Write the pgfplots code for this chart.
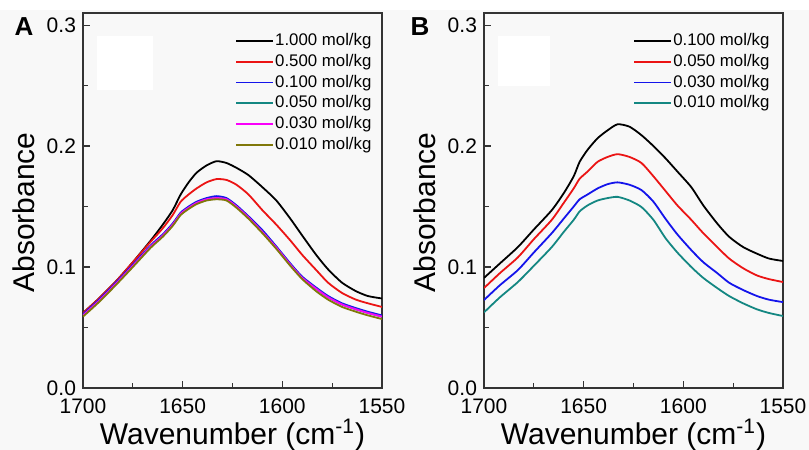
\documentclass[border=0pt]{standalone}
\usepackage{fontspec}
\setmainfont{Liberation Sans}
\usepackage{pgfplots}
\usepackage{pgfplotstable}
\pgfplotsset{compat=1.18}
\definecolor{bgray}{RGB}{248,248,248}
\definecolor{ftred}{RGB}{235,20,20}
\definecolor{ftblue}{RGB}{20,20,235}
\definecolor{ftteal}{RGB}{20,135,130}
\definecolor{ftmag}{RGB}{250,0,250}
\definecolor{ftolive}{RGB}{128,120,10}

% panel A: wavenumber, then 1.000 / 0.500 / 0.100 / 0.050 / 0.030 / 0.010 mol/kg
\pgfplotstableread{
w    a1000  a500   a100   a050   a030   a010
1700 0.062  0.062  0.061  0.060  0.060  0.059
1692 0.074  0.074  0.073  0.072  0.072  0.071
1683 0.089  0.089  0.088  0.087  0.087  0.086
1675 0.104  0.104  0.102  0.101  0.101  0.100
1666 0.122  0.121  0.118  0.117  0.117  0.116
1660 0.135  0.132  0.127  0.126  0.126  0.125
1655 0.147  0.143  0.136  0.135  0.135  0.134
1651 0.160  0.154  0.145  0.144  0.144  0.143
1647 0.170  0.160  0.150  0.149  0.149  0.148
1643 0.178  0.165  0.154  0.153  0.153  0.152
1638 0.184  0.170  0.157  0.156  0.156  0.155
1633 0.1875 0.1727 0.1586 0.157  0.157  0.156
1628 0.186  0.172  0.157  0.156  0.156  0.155
1623 0.182  0.168  0.151  0.150  0.150  0.149
1617 0.176  0.160  0.142  0.141  0.141  0.140
1610 0.166  0.147  0.1305 0.129  0.129  0.128
1603 0.155  0.135  0.117  0.116  0.116  0.115
1596 0.140  0.122  0.103  0.102  0.102  0.101
1590 0.126  0.110  0.092  0.091  0.091  0.090
1583 0.110  0.0975 0.083  0.082  0.082  0.080
1577 0.098  0.087  0.076  0.075  0.075  0.073
1570 0.087  0.0785 0.070  0.069  0.069  0.067
1563 0.080  0.073  0.066  0.065  0.065  0.063
1557 0.076  0.070  0.063  0.062  0.062  0.060
1550 0.074  0.067  0.060  0.059  0.059  0.057
}\tableA

% panel B: wavenumber, then 0.100 / 0.050 / 0.030 / 0.010 mol/kg
\pgfplotstableread{
w    b100   b050   b030   b010
1700 0.091  0.0826 0.0727 0.0625
1692 0.103  0.095  0.085  0.075
1683 0.1165 0.108  0.0975 0.0876
1675 0.131  0.123  0.112  0.101
1666 0.147  0.139  0.128  0.1165
1660 0.161  0.153  0.140  0.129
1655 0.175  0.165  0.150  0.139
1652 0.187  0.173  0.156  0.146
1648 0.197  0.179  0.160  0.151
1643 0.2065 0.187  0.165  0.155
1638 0.213  0.191  0.1685 0.157
1633 0.218  0.1933 0.170  0.158
1627 0.216  0.191  0.168  0.155
1621 0.209  0.186  0.1636 0.1496
1615 0.200  0.175  0.154  0.139
1609 0.190  0.163  0.140  0.124
1603 0.179  0.151  0.127  0.112
1596 0.166  0.139  0.114  0.100
1590 0.151  0.128  0.104  0.091
1583 0.136  0.1165 0.095  0.0826
1577 0.125  0.107  0.087  0.076
1570 0.1165 0.099  0.081  0.070
1563 0.111  0.093  0.076  0.065
1557 0.107  0.090  0.073  0.062
1550 0.105  0.0876 0.071  0.0595
}\tableB

\pgfplotsset{
  ftpanel/.style={
    scale only axis, width=149.5pt, height=187.5pt,
    anchor=south west,
    x dir=reverse, xmin=1550, xmax=1700,
    ymin=0, ymax=0.31,
    xtick={1550,1600,1650,1700}, minor xtick={1575,1625,1675},
    ytick={0,0.1,0.2,0.3}, minor ytick={0.05,0.15,0.25},
    tick align=inside, xtick pos=bottom, ytick pos=left,
    major tick length=3.5pt, minor tick length=2.5pt,
    every tick/.style={black!80, line width=0.6pt},
    axis line style={black!80, line width=0.7pt},
    /pgf/number format/assume math mode=true,
    x tick label style={font=\fontsize{10.5}{12}\selectfont, yshift=-1.8pt,
      /pgf/number format/set thousands separator={}},
    y tick label style={font=\fontsize{10.5}{12}\selectfont,
      /pgf/number format/fixed, /pgf/number format/fixed zerofill,
      /pgf/number format/precision=1},
    xlabel={Wavenumber (cm\textsuperscript{-1})},
    ylabel={Absorbance},
    label style={font=\fontsize{15}{17}\selectfont},
    xlabel style={at={(axis description cs:0.5,-0.125)}, anchor=center},
    ylabel style={at={(axis description cs:-0.197,0.468)}, anchor=center},
    legend style={draw=none, fill=none, font=\fontsize{8.4}{9}\selectfont,
      row sep=1.6pt, anchor=north east, inner sep=0pt,
      nodes={inner sep=0.6pt},
      /tikz/every even column/.append style={column sep=1.5pt}},
    legend image code/.code={\draw[#1, line width=0.9pt] (0pt,0pt) -- (18.5pt,0pt);},
    every axis plot/.append style={line width=0.9pt, smooth, tension=0.4, no markers},
  }
}

\begin{document}
\begin{tikzpicture}
\useasboundingbox (0,0) rectangle (404.5pt,225pt);
\fill[bgray] (0,0) rectangle (404.5pt,220pt);

\begin{axis}[ftpanel, name=axA, at={(41.5pt,31pt)},
  legend style={at={(0.97,0.95)}}]
\fill[white] (axis cs:1693,0.246) rectangle (axis cs:1665,0.291);
\addplot[black] table[x=w, y=a1000] {\tableA};
\addplot[ftred] table[x=w, y=a500] {\tableA};
\addplot[ftblue] table[x=w, y=a100] {\tableA};
\addplot[ftteal] table[x=w, y=a050] {\tableA};
\addplot[ftmag] table[x=w, y=a030] {\tableA};
\addplot[ftolive] table[x=w, y=a010] {\tableA};
\legend{1.000 mol/kg, 0.500 mol/kg, 0.100 mol/kg, 0.050 mol/kg, 0.030 mol/kg, 0.010 mol/kg}
\end{axis}
\node[font=\bfseries\fontsize{13}{14}\selectfont] at ([xshift=-29.5pt, yshift=-7pt]axA.north west) {A};

\begin{axis}[ftpanel, name=axB, at={(242pt,31pt)},
  legend style={at={(0.96,0.95)}}]
\fill[white] (axis cs:1693,0.2495) rectangle (axis cs:1667,0.291);
\addplot[black] table[x=w, y=b100] {\tableB};
\addplot[ftred] table[x=w, y=b050] {\tableB};
\addplot[ftblue] table[x=w, y=b030] {\tableB};
\addplot[ftteal] table[x=w, y=b010] {\tableB};
\legend{0.100 mol/kg, 0.050 mol/kg, 0.030 mol/kg, 0.010 mol/kg}
\end{axis}
\node[font=\bfseries\fontsize{13}{14}\selectfont] at ([xshift=-32pt, yshift=-7pt]axB.north west) {B};
\end{tikzpicture}
\end{document}
